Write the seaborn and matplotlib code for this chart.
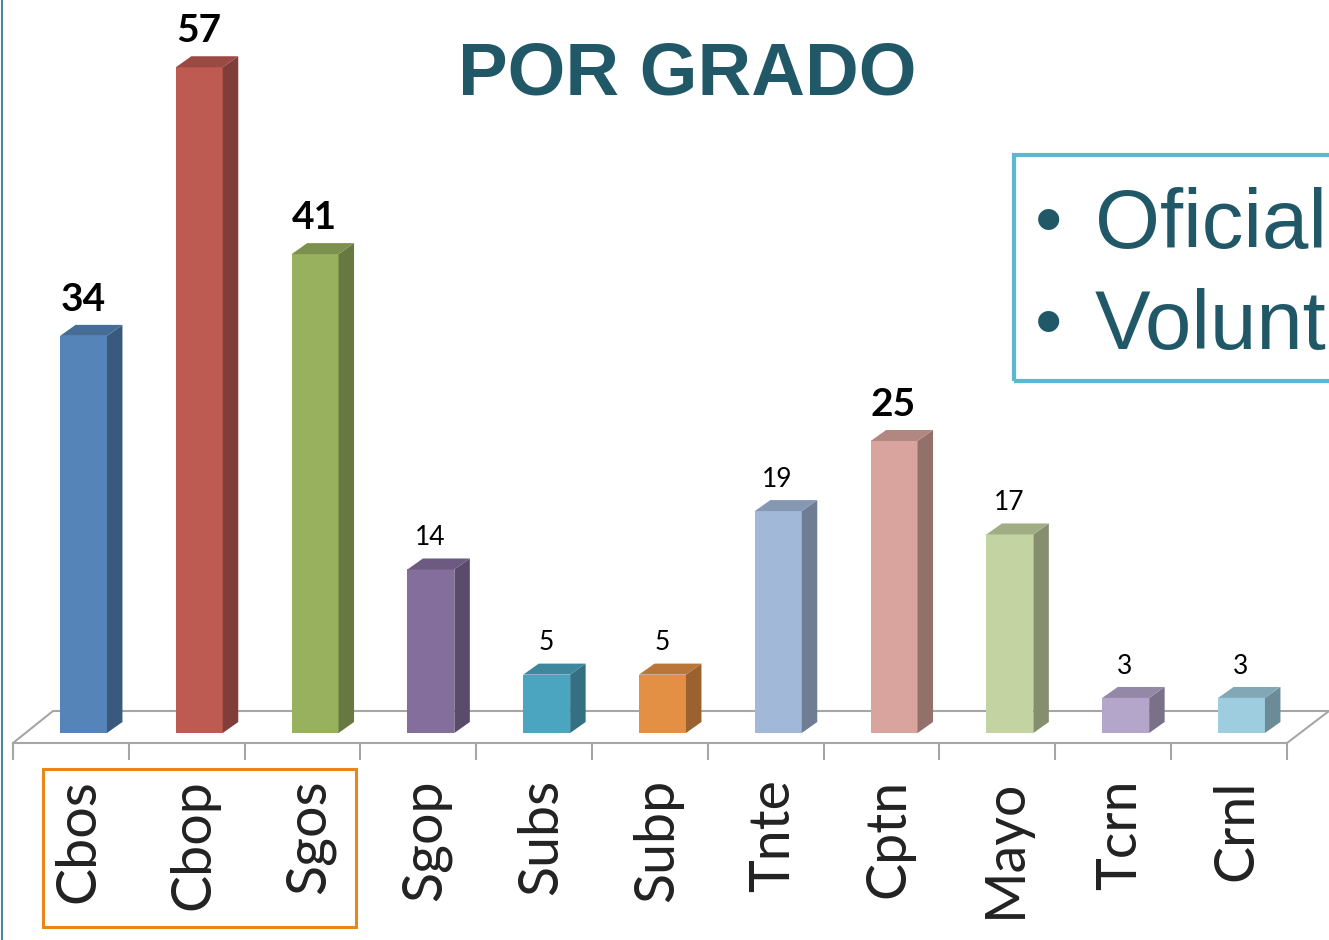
import matplotlib
matplotlib.use("Agg")
import matplotlib.pyplot as plt
from matplotlib.patches import Polygon, Rectangle
from matplotlib.lines import Line2D
from matplotlib.colors import to_rgb
from matplotlib.transforms import ScaledTranslation
import pandas as pd
import seaborn as sns

# Values
grados = ["Cbos", "Cbop", "Sgos", "Sgop", "Subs", "Subp", "Tnte", "Cptn", "Mayo", "Tcrn", "Crnl"]
cantidad = [34, 57, 41, 14, 5, 5, 19, 25, 17, 3, 3]
colores = ["#5585b8", "#bd5a52", "#98b15f", "#846e9c", "#4ba5c0", "#e39045",
           "#a2b8d8", "#d9a49d", "#c3d3a2", "#b3a6ca", "#9ecde0"]
destacados = ["Cbos", "Cbop", "Sgos", "Cptn"]
W, H = 1329, 940

df = pd.DataFrame({"grado": grados, "cantidad": cantidad})

sns.set_theme(style="white")
plt.rcParams["font.family"] = ["Lato", "DejaVu Sans"]

fig = plt.figure(figsize=(W / 100, H / 100), dpi=100)
# axes run from the front floor edge to the top of the image
ax = fig.add_axes([13 / W, 1 - 743 / H, 1274 / W, 743 / H])
sns.barplot(data=df, x="grado", y="cantidad", hue="grado", palette=colores,
            legend=False, width=0.405, saturation=1, linewidth=0, ax=ax)

px_x = 115.8
px_y = 11.68
ax.set_xlim(-70.5 / px_x, 1203.5 / px_x)
ax.set_ylim(-10 / px_y, 733 / px_y)
ax.set_xlabel("")
ax.set_ylabel("")
ax.set_yticks([])
for s in ["top", "left", "right"]:
    ax.spines[s].set_visible(False)
ax.spines["bottom"].set_color("#a6a6a6")
ax.spines["bottom"].set_linewidth(1.5)
ax.patch.set_alpha(0)

# tick marks between the categories, labels at the centres
ax.set_xticks([-70.5 / px_x + i for i in range(12)], minor=True)
ax.tick_params(axis="x", which="minor", length=12, width=1.5, color="#a6a6a6", bottom=True)
ax.set_xticks(range(len(grados)))
ax.set_xticklabels(grados, rotation=90, fontsize=40, color="#222222")
ax.tick_params(axis="x", which="major", length=0, pad=26)
for lab in ax.get_xticklabels():
    lab.set_transform(lab.get_transform() + ScaledTranslation(-5 / 100, 0, fig.dpi_scale_trans))

# depth of the 3D look
dx = 15.5 / px_x
dy = 11 / px_y


def oscuro(color, f):
    return tuple(c * f for c in to_rgb(color))


for bar, nombre, valor, color in zip(ax.patches, grados, cantidad, colores):
    x0 = bar.get_x()
    x1 = x0 + bar.get_width()
    y1 = bar.get_height()
    ax.add_patch(Polygon([(x1, 0), (x1 + dx, dy), (x1 + dx, y1 + dy), (x1, y1)],
                         facecolor=oscuro(color, 0.68), edgecolor="none", zorder=3))
    ax.add_patch(Polygon([(x0, y1), (x0 + dx, y1 + dy), (x1 + dx, y1 + dy), (x1, y1)],
                         facecolor=oscuro(color, 0.82), edgecolor="none", zorder=3))
    grande = nombre in destacados
    ax.annotate(str(valor), (x0 + bar.get_width() / 2, y1), xytext=(-0.5, 26.5 if grande else 23),
                textcoords="offset points", ha="center", va="center",
                fontsize=28 if grande else 19, fontweight="bold" if grande else "normal",
                color="black", annotation_clip=False)


def fx(p):
    return p / W


def fy(p):
    return 1 - p / H


# floor of the chart
gris = "#a6a6a6"
for xs, ys in [((13, 53, 1329), (743, 711, 711)), ((1287, 1329), (743, 711)), ((13, 13), (743, 755))]:
    fig.add_artist(Line2D([fx(v) for v in xs], [fy(v) for v in ys], color=gris, lw=1.5, zorder=0))

# left border of the slide
fig.add_artist(Line2D([fx(2), fx(2)], [0, 1], color="#4a8a9a", lw=1.5))

# title
fig.text(fx(687), fy(75), "POR GRADO", family="Liberation Sans", fontweight="bold",
         fontsize=53.6, color="#215868", ha="center", va="center")

# orange frame round the first three labels
fig.add_artist(Rectangle((fx(43), fy(927)), 313 / W, 158 / H, fill=False,
                         edgecolor="#e8861a", lw=2.2, transform=fig.transFigure))

# box with the text as far as the slide shows it
fig.add_artist(Rectangle((fx(1014), fy(381)), 330 / W, 226 / H, fill=False,
                         edgecolor="#5bb8d0", lw=3, transform=fig.transFigure))
for y, texto in [(226, "Oficial"), (327, "Volunt")]:
    fig.text(fx(1035), fy(y - 1), "•", family="Liberation Sans", fontsize=56, color="#215868", va="center")
    fig.text(fx(1095), fy(y), texto, family="Liberation Sans", fontsize=60, color="#215868", va="center")

fig.savefig("out.png", dpi=100)
